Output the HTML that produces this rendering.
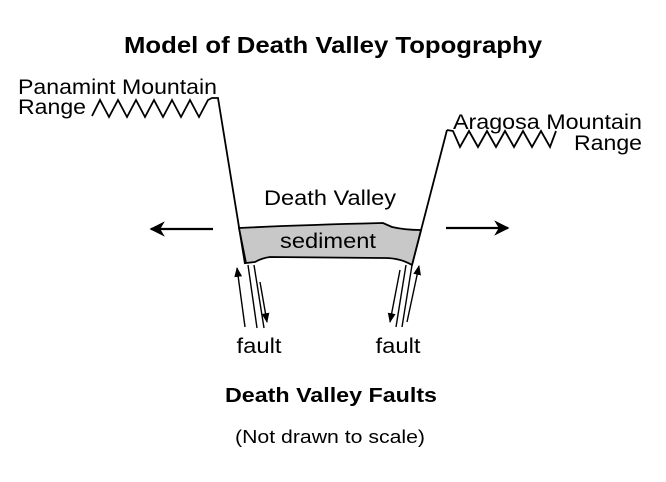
<!DOCTYPE html>
<html><head><meta charset="utf-8"><style>html,body{margin:0;padding:0;background:#fff}svg{display:block}text{font-family:"Liberation Sans",Arial,sans-serif;fill:#000}</style></head><body>
<svg width="666" height="482" viewBox="0 0 666 482" xmlns="http://www.w3.org/2000/svg">
<defs><marker id="ah" viewBox="0 0 10 10" refX="9" refY="5" markerWidth="7" markerHeight="7" orient="auto"><path d="M0,0 L10,5 L0,10 L3,5 z" fill="#000"/></marker>
<marker id="sh" viewBox="0 0 10 10" refX="9" refY="5" markerWidth="7" markerHeight="7" orient="auto"><path d="M0,1 L10,5 L0,9 z" fill="#000"/></marker></defs>
<text x="333" y="53" font-size="23" font-weight="bold" text-anchor="middle" textLength="418" lengthAdjust="spacingAndGlyphs">Model of Death Valley Topography</text>
<text x="18" y="94" font-size="21" textLength="199" lengthAdjust="spacingAndGlyphs">Panamint Mountain</text>
<text x="18" y="114" font-size="21" textLength="68" lengthAdjust="spacingAndGlyphs">Range</text>
<text x="453" y="129" font-size="21" textLength="189" lengthAdjust="spacingAndGlyphs">Aragosa Mountain</text>
<text x="642" y="150" font-size="21" text-anchor="end" textLength="68" lengthAdjust="spacingAndGlyphs">Range</text>
<g fill="none" stroke="#000" stroke-width="1.8">
<polyline points="92,116 100,100 109,117 118,100 127,117 136,100 145,117 154,100 163,117 172,100 181,117 190,100 199,117 208,100 212,98 218,98 245,264"/>
<polyline points="447,130 453,131 460,147 469,131 478,147 487,131 496,147 505,131 514,147 523,131 532,147 541,131 550,147 556,131"/>
<line x1="447" y1="130" x2="412" y2="265"/>
</g>
<path d="M239,228 Q300,225 383,223 L392,227 Q405,230 421,230 L412,265 Q400,258 385,258 L270,257 Q262,258 255,262 L246,263 Z" fill="#c8c8c8" stroke="#000" stroke-width="1.8"/>
<text x="330" y="205" font-size="21" text-anchor="middle" textLength="132" lengthAdjust="spacingAndGlyphs">Death Valley</text>
<text x="328" y="248" font-size="21" text-anchor="middle" textLength="96" lengthAdjust="spacingAndGlyphs">sediment</text>
<g stroke="#000" stroke-width="1.4" fill="none">
<line x1="248" y1="265" x2="257" y2="328"/>
<line x1="254" y1="265" x2="264" y2="328"/>
<line x1="245" y1="327" x2="237" y2="268" marker-end="url(#sh)"/>
<line x1="260" y1="282" x2="267" y2="322" marker-end="url(#sh)"/>
<line x1="406" y1="265" x2="396" y2="327"/>
<line x1="412" y1="265" x2="402" y2="327"/>
<line x1="400" y1="270" x2="390" y2="322" marker-end="url(#sh)"/>
<line x1="407" y1="322" x2="419" y2="266" marker-end="url(#sh)"/>
<line x1="213" y1="229" x2="151" y2="229" stroke-width="2.2" marker-end="url(#ah)"/>
<line x1="446" y1="228" x2="508" y2="228" stroke-width="2.2" marker-end="url(#ah)"/>
</g>
<text x="259" y="353" font-size="21" text-anchor="middle" textLength="45" lengthAdjust="spacingAndGlyphs">fault</text>
<text x="398" y="353" font-size="21" text-anchor="middle" textLength="45" lengthAdjust="spacingAndGlyphs">fault</text>
<text x="331" y="402" font-size="20" font-weight="bold" text-anchor="middle" textLength="212" lengthAdjust="spacingAndGlyphs">Death Valley Faults</text>
<text x="330" y="443" font-size="18" text-anchor="middle" textLength="190" lengthAdjust="spacingAndGlyphs">(Not drawn to scale)</text>
</svg>
</body></html>
